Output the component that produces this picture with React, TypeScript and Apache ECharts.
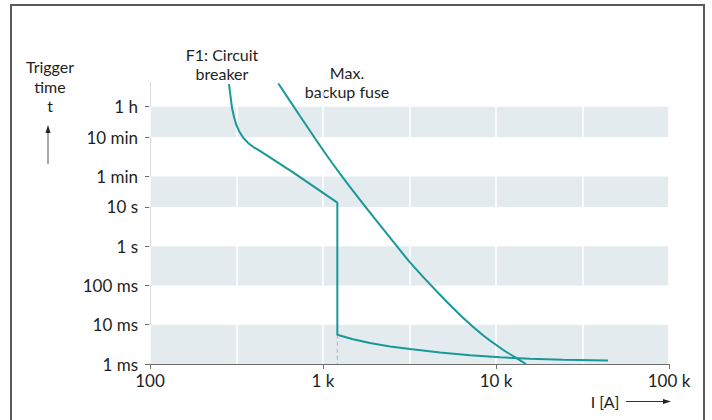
import React, { useEffect, useRef } from 'react';
import * as echarts from 'echarts';

// Axis ticks
const currentTicks = [100, 1000, 10000, 100000];
const currentTickLabels = ['100', '1 k', '10 k', '100 k'];
const timeTicks = [0.001, 0.01, 0.1, 1, 10, 60, 600, 3600];
const timeTickLabels = ['1 ms', '10 ms', '100 ms', '1 s', '10 s', '1 min', '10 min', '1 h'];
const shadedBands = [
  [0.001, 0.01],
  [0.1, 1],
  [10, 60],
  [600, 3600],
];

// F1: circuit breaker (current in A, trigger time in s)
const breakerCurrent = [
  286, 292, 298, 306, 314, 327, 345, 369, 399, 432, 671, 1210,
  1210, 1471, 1869, 2440, 3184, 4747, 7074, 10546, 15720, 24400, 44400,
];
const breakerTime = [
  13500, 6700, 3320, 1960, 1300, 864, 590, 428, 329, 268, 76, 12.9,
  0.00557, 0.00435, 0.00342, 0.0028, 0.00241, 0.00196, 0.00167, 0.00148, 0.001356, 0.00128, 0.00123,
];

// Max. backup fuse
const fuseCurrent = [552, 736, 1004, 1340, 1789, 2344, 3184, 4747, 6447, 8413, 10978, 12877, 14905];
const fuseTime = [14000, 2080, 275, 47.5, 9.21, 2.07, 0.389, 0.058, 0.01507, 0.0054, 0.00231, 0.00149, 0.001];

// Dashed drop line under the breaker's instantaneous trip
const dropCurrent = [1210, 1210];
const dropTime = [0.00557, 0.001];

const TEAL = '#17999a';
const AXIS = '#6f6f6f';
const TEXT = '#1e1e1e';
const FONT = 'Lato';
const FS = 17;
const FS_NOTE = 16;

const zip = (xs: number[], ys: number[]) => xs.map((x, i) => [x, ys[i]]);

const lookup = (v: number, vals: number[], labels: string[]) => {
  for (let i = 0; i < vals.length; i++) {
    if (Math.abs(Math.log10(v) - Math.log10(vals[i])) < 1e-4) return labels[i];
  }
  return '';
};

export default function App() {
  const ref = useRef<HTMLDivElement>(null);
  useEffect(() => {
    document.body.style.margin = '0';
    if (!ref.current) return;
    const chart = echarts.init(ref.current, null, { renderer: 'svg' });
    const txt = (text: string, x: number, y: number, lineHeight: number) => ({
      type: 'text',
      x,
      y,
      style: {
        text,
        fill: TEXT,
        fontSize: FS_NOTE,
        fontFamily: FONT,
        lineHeight,
        textAlign: 'center',
        textVerticalAlign: 'middle',
      },
    });
    chart.setOption({
      animation: false,
      backgroundColor: '#ffffff',
      grid: { left: 150, right: 43, top: 83, bottom: 56, outerBoundsMode: 'none' },
      xAxis: [
        {
          type: 'log',
          logBase: 10,
          min: 100,
          max: 100000,
          axisLine: { show: true, lineStyle: { color: AXIS, width: 1 } },
          axisTick: { show: true, length: 5, lineStyle: { color: AXIS } },
          axisLabel: {
            margin: 8,
            color: TEXT,
            fontSize: FS,
            fontFamily: FONT,
            formatter: (v: number) => lookup(v, currentTicks, currentTickLabels),
          },
          splitLine: { show: false },
          minorTick: { show: false },
        },
        {
          type: 'log',
          logBase: Math.sqrt(10),
          min: 100,
          max: 100000,
          position: 'top',
          z: 1.5,
          axisLine: { show: false },
          axisTick: { show: false },
          axisLabel: { show: false },
          splitLine: { show: true, lineStyle: { color: '#ffffff', width: 1.5 } },
        },
      ],
      yAxis: {
        type: 'log',
        logBase: 10,
        min: 0.001,
        max: 14400,
        axisLine: { show: true, lineStyle: { color: AXIS, width: 1 } },
        axisTick: { show: true, length: 5, customValues: timeTicks, lineStyle: { color: AXIS } },
        axisLabel: {
          customValues: timeTicks,
          margin: 12,
          color: TEXT,
          fontSize: FS,
          fontFamily: FONT,
          formatter: (v: number) => lookup(v, timeTicks, timeTickLabels),
        },
        splitLine: { show: false },
      },
      series: [
        {
          name: 'F1: Circuit breaker',
          type: 'line',
          xAxisIndex: 0,
          data: zip(breakerCurrent, breakerTime),
          showSymbol: false,
          symbol: 'none',
          smooth: false,
          lineStyle: { color: TEAL, width: 2 },
          z: 3,
          markArea: {
            silent: true,
            itemStyle: { color: '#e4ebee' },
            data: shadedBands.map(([a, b]) => [{ yAxis: a }, { yAxis: b }]),
          },
        },
        {
          name: 'Max. backup fuse',
          type: 'line',
          xAxisIndex: 0,
          data: zip(fuseCurrent, fuseTime),
          showSymbol: false,
          symbol: 'none',
          smooth: 0.3,
          lineStyle: { color: TEAL, width: 2 },
          z: 3,
        },
        {
          name: 'drop',
          type: 'line',
          xAxisIndex: 0,
          data: zip(dropCurrent, dropTime),
          showSymbol: false,
          symbol: 'none',
          lineStyle: { color: '#9cb9b9', width: 1, type: [4, 3] },
          z: 2,
        },
      ],
      graphic: [
        {
          type: 'rect',
          shape: { x: 11, y: 5, width: 693, height: 440 },
          style: { fill: 'none', stroke: '#5a5a5a', lineWidth: 2 },
          silent: true,
        },
        txt('Trigger\ntime\nt', 50, 86, 19.5),
        {
          type: 'line',
          shape: { x1: 48, y1: 164, x2: 48, y2: 131 },
          style: { stroke: '#555', lineWidth: 1 },
        },
        {
          type: 'polygon',
          shape: { points: [[48, 125], [45.5, 133], [50.5, 133]] },
          style: { fill: '#222' },
        },
        txt('F1: Circuit\nbreaker', 222, 64, 19.5),
        txt('Max.\nbackup fuse', 347, 82, 19.5),
        txt('I [A]', 605, 401, 19.5),
        {
          type: 'line',
          shape: { x1: 626, y1: 401.5, x2: 664, y2: 401.5 },
          style: { stroke: '#333', lineWidth: 1 },
        },
        {
          type: 'polygon',
          shape: { points: [[671, 401.5], [663, 399], [663, 404]] },
          style: { fill: '#222' },
        },
      ],
    });
    return () => chart.dispose();
  }, []);
  return <div ref={ref} style={{ width: 712, height: 420 }} />;
}
